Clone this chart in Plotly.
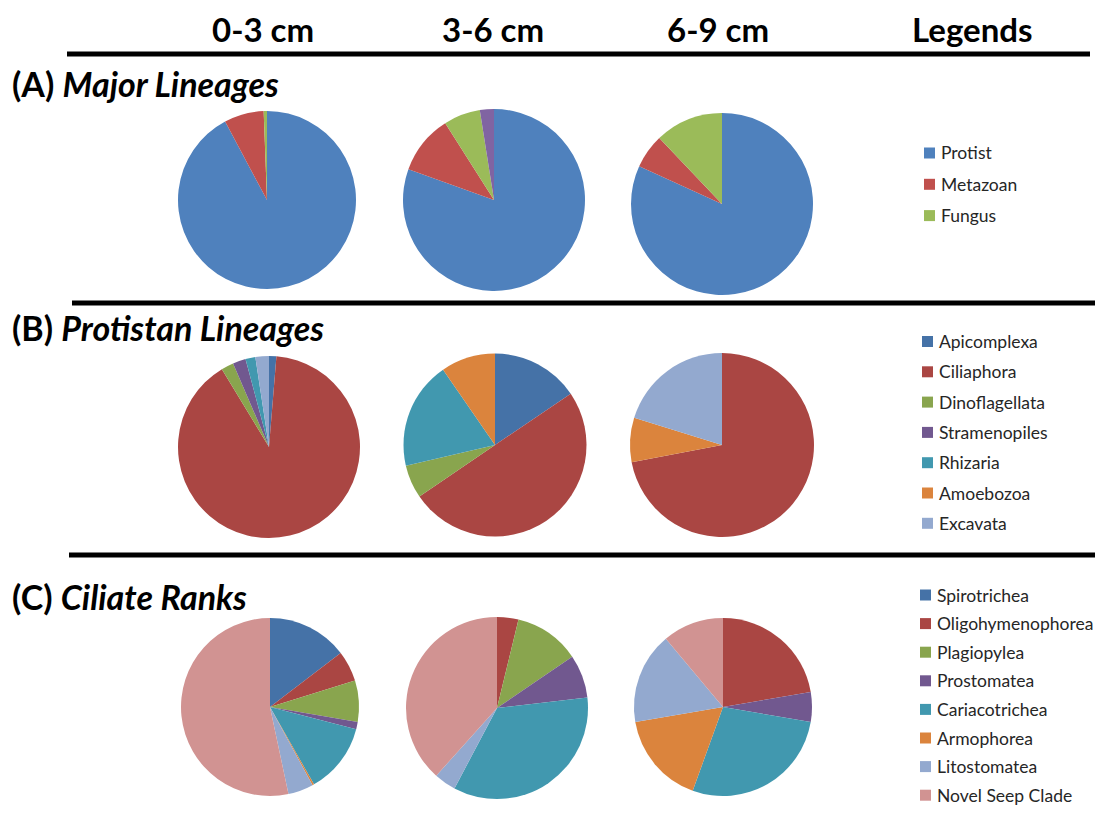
import plotly.graph_objects as go

W, H = 1095, 820

# ---- data -------------------------------------------------------------
depths = ["0-3 cm", "3-6 cm", "6-9 cm"]

major_labels = ["Protist", "Metazoan", "Fungus", "Other"]
major_legend = ["Protist", "Metazoan", "Fungus"]
major_0_3 = [92.2, 7.2, 0.6, 0.0]
major_3_6 = [80.5, 10.5, 6.5, 2.5]
major_6_9 = [81.8, 6.1, 12.1, 0.0]
major_colors = ["#4F81BD", "#C0504D", "#9BBB59", "#8064A2"]

protist_labels = ["Apicomplexa", "Ciliaphora", "Dinoflagellata", "Stramenopiles",
                  "Rhizaria", "Amoebozoa", "Excavata"]
protist_0_3 = [1.3, 89.9, 2.2, 2.3, 1.75, 0.0, 2.4]
protist_3_6 = [15.5, 49.9, 5.9, 0.0, 19.0, 9.6, 0.0]
protist_6_9 = [0.0, 72.0, 0.0, 0.0, 0.0, 7.8, 20.2]

ciliate_labels = ["Spirotrichea", "Oligohymenophorea", "Plagiopylea", "Prostomatea",
                  "Cariacotrichea", "Armophorea", "Litostomatea", "Novel Seep Clade"]
ciliate_0_3 = [14.6, 5.6, 7.5, 1.3, 12.75, 0.3, 4.6, 53.3]
ciliate_3_6 = [0.0, 3.8, 11.7, 7.7, 34.6, 0.0, 3.9, 38.4]
ciliate_6_9 = [0.0, 22.3, 0.0, 5.4, 27.8, 16.75, 16.6, 11.1]

dark_colors = ["#4572A7", "#AA4643", "#89A54E", "#71588F",
               "#4198AF", "#DB843D", "#93A9CF", "#D19392"]

section_titles = [("(A)", "Major Lineages"),
                  ("(B)", "Protistan Lineages"),
                  ("(C)", "Ciliate Ranks")]

# ---- layout helpers (pixel -> paper) ------------------------------------
def px(x):
    return x / W


def py(y):
    return 1 - y / H


# pie centres and radii in pixels, one row per section
pie_geom = [
    [(267, 200, 89), (494, 200, 91), (722, 204, 91)],
    [(269, 447, 91), (495, 445, 91.5), (722, 445, 92)],
    [(270, 707, 89), (497, 708, 91), (723, 707, 89)],
]

sections = [
    (major_labels, [major_0_3, major_3_6, major_6_9], major_colors),
    (protist_labels, [protist_0_3, protist_3_6, protist_6_9], dark_colors[:7]),
    (ciliate_labels, [ciliate_0_3, ciliate_3_6, ciliate_6_9], dark_colors),
]

fig = go.Figure()

for row, (labels, series, colors) in enumerate(sections):
    for col, values in enumerate(series):
        cx, cy, r = pie_geom[row][col]
        fig.add_trace(go.Pie(
            labels=labels,
            values=values,
            sort=False,
            direction="clockwise",
            rotation=0,
            marker=dict(colors=colors, line=dict(width=0)),
            textinfo="none",
            hovertemplate="%{label}: %{percent}<extra>" + depths[col] + "</extra>",
            showlegend=False,
            domain=dict(x=[px(cx - r), px(cx + r)], y=[py(cy + r), py(cy - r)]),
        ))

shapes = []
annotations = []

# column headers
header_x = [263, 493, 718, 972]
for x, txt in zip(header_x, depths + ["Legends"]):
    annotations.append(dict(
        x=px(x), y=py(29), xref="paper", yref="paper", text="<b>%s</b>" % txt,
        showarrow=False, xanchor="center", yanchor="middle",
        font=dict(family="Lato", size=33, color="#000000"),
    ))

# horizontal rules
for x0, x1, y in [(67, 1090, 54), (72, 1095, 303), (69, 1095, 555)]:
    shapes.append(dict(type="line", xref="paper", yref="paper",
                       x0=px(x0), x1=px(x1), y0=py(y), y1=py(y),
                       line=dict(color="#000000", width=5)))

# section titles
title_y = [84, 327, 596]
for (tag, name), y in zip(section_titles, title_y):
    annotations.append(dict(
        x=px(10), y=py(y), xref="paper", yref="paper",
        text="<b>%s <i>%s</i></b>" % (tag, name),
        showarrow=False, xanchor="left", yanchor="middle",
        font=dict(family="Lato", size=34, color="#000000"),
    ))

# legends: (labels, colours, first y, spacing, square x)
legend_specs = [
    (major_legend, major_colors, 153, 31.3, 924),
    (protist_labels, dark_colors[:7], 341.5, 30.3, 922),
    (ciliate_labels, dark_colors, 595, 28.6, 920),
]
for labels, colors, y0, dy, sx in legend_specs:
    for i, (lab, c) in enumerate(zip(labels, colors)):
        y = y0 + i * dy
        shapes.append(dict(type="rect", xref="paper", yref="paper",
                           x0=px(sx), x1=px(sx + 11), y0=py(y + 5.5), y1=py(y - 5.5),
                           fillcolor=c, line=dict(width=0)))
        annotations.append(dict(
            x=px(sx + 15), y=py(y), xref="paper", yref="paper", text=lab,
            showarrow=False, xanchor="left", yanchor="middle",
            font=dict(family="Lato", size=17.5, color="#262626"),
        ))

fig.update_layout(
    width=W, height=H,
    margin=dict(l=0, r=0, t=0, b=0),
    paper_bgcolor="#ffffff",
    plot_bgcolor="#ffffff",
    shapes=shapes,
    annotations=annotations,
)

fig.write_html("out.html")
